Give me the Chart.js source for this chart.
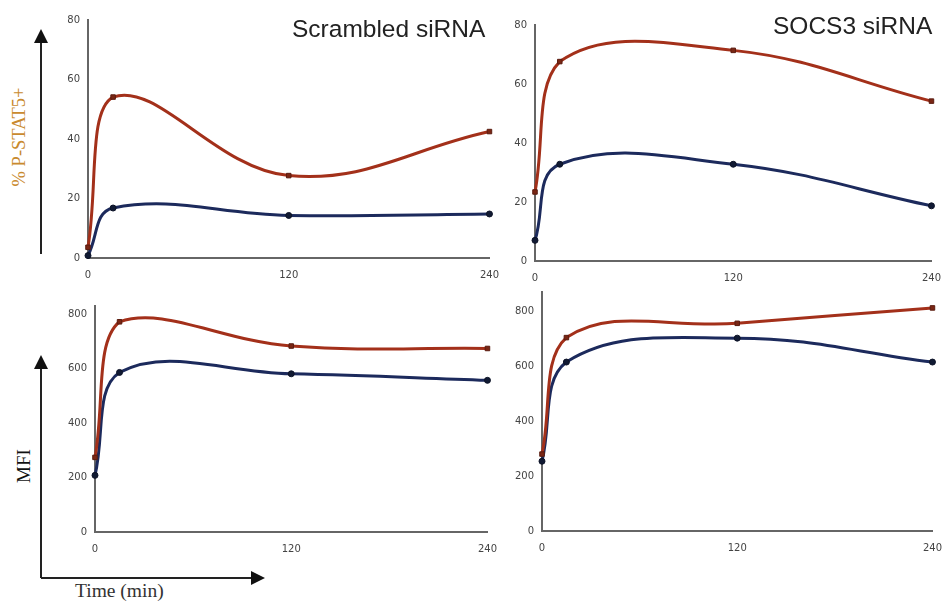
<!DOCTYPE html>
<html>
<head>
<meta charset="utf-8">
<script src="https://cdn.jsdelivr.net/npm/chart.js@4"></script>
<style>
  html, body { margin: 0; padding: 0; background: #fff; }
  #page { position: relative; width: 952px; height: 603px; overflow: hidden; background: #fff; }
  .panel { position: absolute; }
  .lbl { position: absolute; white-space: nowrap; }
  .title { font-family: "Liberation Sans", Arial, sans-serif; font-size: 24.5px; color: #222; }
  .serif { font-family: "Liberation Serif", "Times New Roman", serif; }
  svg { position: absolute; left: 0; top: 0; }
</style>
</head>
<body>
<div id="page">
  <svg width="952" height="603">
    <g stroke="#222" stroke-width="2" fill="#111">
      <line x1="41" y1="254" x2="41" y2="40" />
      <polygon points="41,29 34,43 48,43" stroke="none" />
      <line x1="41" y1="578" x2="41" y2="366" />
      <polygon points="41,355 34,369 48,369" stroke="none" />
      <line x1="41" y1="578" x2="252" y2="578" />
      <polygon points="265,578 251,571 251,585" stroke="none" />
    </g>
  </svg>

  <div class="panel" id="p1"><canvas id="c1"></canvas></div>
  <div class="panel" id="p2"><canvas id="c2"></canvas></div>
  <div class="panel" id="p3"><canvas id="c3"></canvas></div>
  <div class="panel" id="p4"><canvas id="c4"></canvas></div>

  <div class="lbl title" style="left:292px; top:15px;">Scrambled siRNA</div>
  <div class="lbl title" style="left:773px; top:12px;">SOCS3 siRNA</div>
  <div class="lbl serif" style="left:19px; top:137px; font-size:18.5px; color:#c98a2e; transform:translate(-50%,-50%) rotate(-90deg);">% P-STAT5+</div>
  <div class="lbl serif" style="left:24px; top:466px; font-size:19px; color:#111; transform:translate(-50%,-50%) rotate(-90deg);">MFI</div>
  <div class="lbl serif" style="left:75px; top:580px; font-size:19.5px; color:#333;">Time (min)</div>
</div>

<script>
// time points (min)
const timePoints = [0, 15, 120, 240];

// % P-STAT5+
const scrambledPstatRed = [3.6, 54.1, 27.7, 42.5];
const scrambledPstatBlue = [0.8, 16.8, 14.3, 14.8];
const socsPstatRed = [23.4, 67.6, 71.4, 54.2];
const socsPstatBlue = [7, 32.8, 32.8, 18.7];

// MFI
const scrambledMfiRed = [274, 772, 683, 674];
const scrambledMfiBlue = [208, 586, 581, 557];
const socsMfiRed = [280, 704, 756, 812];
const socsMfiBlue = [254, 615, 702, 615];

// tick labels
const xTicks = [0, 120, 240];
const pctTicks = [0, 20, 40, 60, 80];
const mfiTicks = [0, 200, 400, 600, 800];

const RED = "#a3301a";
const BLUE = "#1c2a5c";

const Y_W = 40, X_H = 30;

// build one panel; area = wanted chart area on the page
function makePanel(id, area, red, blue, yMax, yTicks) {
  const padTop = 10, padRight = 12;
  const left = area.l - Y_W;
  const top = area.t - padTop;
  const w = Math.round(area.r + padRight - left);
  const h = Math.round(area.b + X_H - top);

  const box = document.getElementById("p" + id);
  box.style.left = left + "px";
  box.style.top = top + "px";
  const cv = document.getElementById("c" + id);
  cv.width = w;
  cv.height = h;
  cv.style.width = w + "px";
  cv.style.height = h + "px";

  const toXY = arr => arr.map((v, i) => ({ x: timePoints[i], y: v }));

  new Chart(cv.getContext("2d"), {
    type: "line",
    data: {
      datasets: [
        {
          data: toXY(red),
          borderColor: RED,
          backgroundColor: "#7a2614",
          borderWidth: 3,
          pointStyle: "rect",
          pointRadius: 3.2,
          pointBorderWidth: 1,
          pointBorderColor: "#5a1c10",
          tension: 0.4,
          clip: false
        },
        {
          data: toXY(blue),
          borderColor: BLUE,
          backgroundColor: "#111a33",
          borderWidth: 3,
          pointStyle: "circle",
          pointRadius: 3,
          pointBorderWidth: 1,
          pointBorderColor: "#0c1226",
          tension: 0.4,
          clip: false
        }
      ]
    },
    options: {
      responsive: false,
      animation: false,
      layout: { padding: { left: 0, top: padTop, right: padRight, bottom: 0 } },
      plugins: { legend: { display: false }, tooltip: { enabled: false } },
      scales: {
        x: {
          type: "linear",
          min: 0,
          max: 240,
          grid: { display: false, drawTicks: false },
          border: { display: true, color: "#666", width: 2 },
          afterBuildTicks: s => { s.ticks = xTicks.map(v => ({ value: v })); },
          afterFit: s => { s.height = X_H; },
          ticks: { padding: 11, color: "#444", font: { family: "DejaVu Sans", size: 10 } }
        },
        y: {
          min: 0,
          max: yMax,
          grid: { display: false, drawTicks: false },
          border: { display: true, color: "#666", width: 2 },
          afterBuildTicks: s => { s.ticks = yTicks.map(v => ({ value: v })); },
          afterFit: s => { s.width = Y_W; },
          ticks: { padding: 8, color: "#444", font: { family: "DejaVu Sans", size: 10 } }
        }
      }
    }
  });
}

makePanel(1, { l: 88, t: 16, r: 498, b: 258 }, scrambledPstatRed, scrambledPstatBlue, 80, pctTicks);
makePanel(2, { l: 535, t: 21, r: 940, b: 261 }, socsPstatRed, socsPstatBlue, 80, pctTicks);
makePanel(3, { l: 95, t: 301.7, r: 496, b: 531.7 }, scrambledMfiRed, scrambledMfiBlue, 830, mfiTicks);
makePanel(4, { l: 542, t: 288.2, r: 941, b: 530.7 }, socsMfiRed, socsMfiBlue, 870, mfiTicks);
</script>
</body>
</html>
